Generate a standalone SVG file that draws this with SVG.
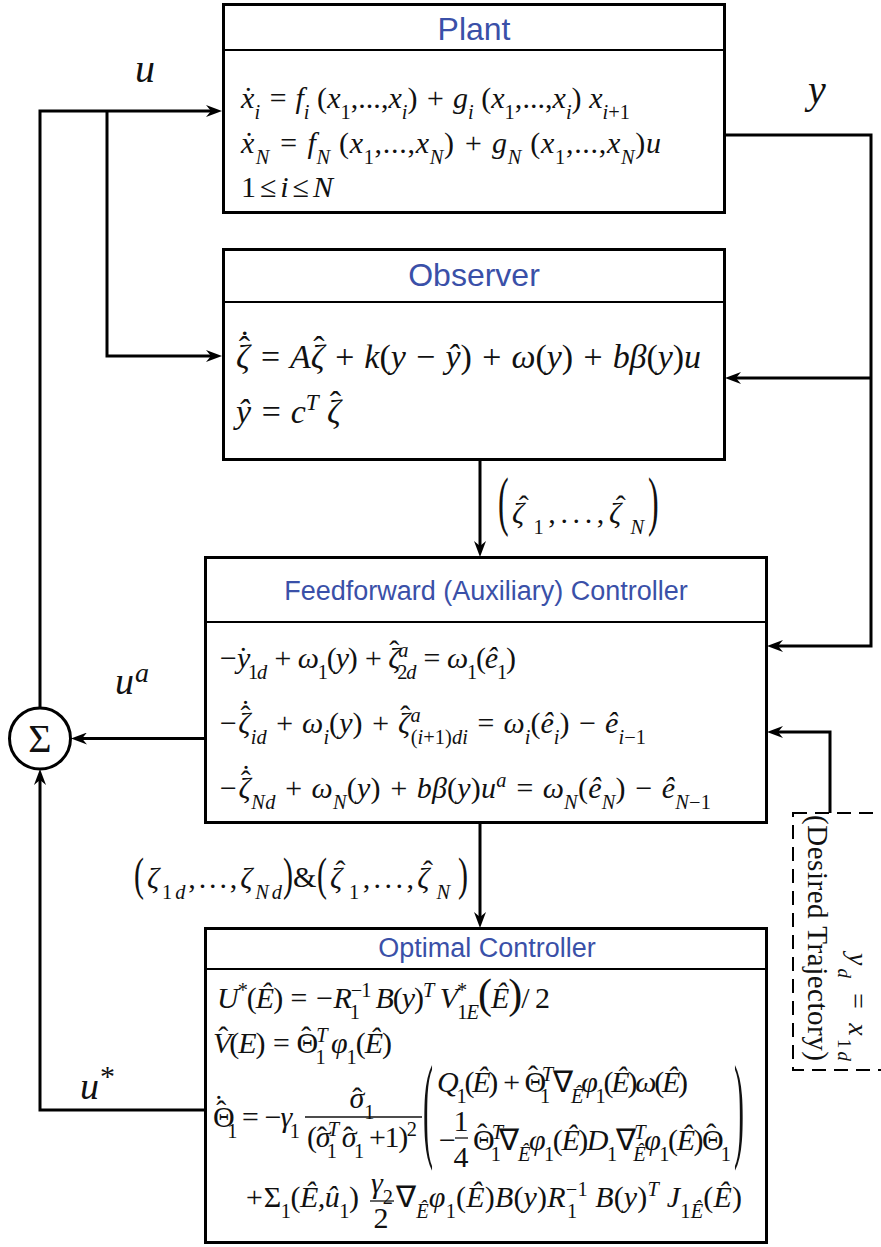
<svg xmlns="http://www.w3.org/2000/svg" width="881" height="1247" viewBox="0 0 881 1247">
<defs>
<style>
.box{fill:#fff;stroke:#000;stroke-width:3}
.hdr{stroke:#000;stroke-width:2}
.title{font-family:"Liberation Sans",Arial,sans-serif;fill:#3a50a8;text-anchor:middle}
.m{font-family:"Liberation Serif","Times New Roman",serif;font-style:italic;fill:#111}
.n{font-style:normal}
.sb{font-size:0.68em;baseline-shift:sub}
.sp{font-size:0.68em;baseline-shift:super}
.conn{fill:none;stroke:#000;stroke-width:3}
.bar{stroke:#111;stroke-width:1.3}
.dash{fill:none;stroke:#000;stroke-width:2;stroke-dasharray:14 8}
</style>
<marker id="ah" viewBox="0 0 16 12" refX="8" refY="6" markerWidth="16" markerHeight="12" markerUnits="userSpaceOnUse" orient="auto">
<path d="M0,0 L16,6 L0,12 L5,6 z" fill="#000"/>
</marker>
</defs>
<rect width="881" height="1247" fill="#fff"/>

<g id="plant">
<rect class="box" x="223.5" y="4.5" width="501" height="208"/>
<line class="hdr" x1="223.5" y1="50" x2="724.5" y2="50"/>
<text class="title" x="474" y="40" font-size="32">Plant</text>
<text class="m" x="241" y="108" font-size="30" textLength="389" lengthAdjust="spacing">x<tspan class="n" dx="-11">˙</tspan><tspan class="sb" dx="1">i</tspan> = f<tspan class="sb">i</tspan> <tspan class="n">(</tspan>x<tspan class="sb n">1</tspan><tspan class="n">,...,</tspan>x<tspan class="sb">i</tspan><tspan class="n">)</tspan> + g<tspan class="sb">i</tspan> <tspan class="n">(</tspan>x<tspan class="sb n">1</tspan><tspan class="n">,...,</tspan>x<tspan class="sb">i</tspan><tspan class="n">)</tspan> x<tspan class="sb">i<tspan class="n">+1</tspan></tspan></text>
<text class="m" x="241" y="153" font-size="30" textLength="420" lengthAdjust="spacing">x<tspan class="n" dx="-11">˙</tspan><tspan class="sb" dx="1">N</tspan> = f<tspan class="sb">N</tspan> <tspan class="n">(</tspan>x<tspan class="sb n">1</tspan><tspan class="n">,...,</tspan>x<tspan class="sb">N</tspan><tspan class="n">)</tspan> + g<tspan class="sb">N</tspan> <tspan class="n">(</tspan>x<tspan class="sb n">1</tspan><tspan class="n">,...,</tspan>x<tspan class="sb">N</tspan><tspan class="n">)</tspan>u</text>
<text class="m" x="241" y="197" font-size="30" textLength="92" lengthAdjust="spacing"><tspan class="n">1</tspan> ≤ i ≤ N</text>
</g>

<g id="observer">
<rect class="box" x="223.5" y="249.5" width="501" height="210"/>
<line class="hdr" x1="223.5" y1="302" x2="724.5" y2="302"/>
<text class="title" x="474" y="286" font-size="32">Observer</text>
<text class="m" x="236" y="368" font-size="34" textLength="465" lengthAdjust="spacing">ζ<tspan class="n" dx="-11" dy="-8">ˆ</tspan><tspan class="n" dx="-11" dy="-6">˙</tspan><tspan dy="14"> = A</tspan>ζ<tspan class="n" dx="-11" dy="-8">ˆ</tspan><tspan dy="8"> + k</tspan><tspan class="n">(</tspan>y − ŷ<tspan class="n">)</tspan> + ω<tspan class="n">(</tspan>y<tspan class="n">)</tspan> + bβ<tspan class="n">(</tspan>y<tspan class="n">)</tspan>u</text>
<text class="m" x="236" y="423" font-size="34" textLength="105" lengthAdjust="spacing">ŷ = c<tspan class="sp">T</tspan> ζ<tspan class="n" dx="-11" dy="-8">ˆ</tspan></text>
</g>

<g id="feedforward">
<rect class="box" x="205.5" y="557.5" width="561" height="265"/>
<line class="hdr" x1="205.5" y1="622" x2="766.5" y2="622"/>
<text class="title" x="486" y="600" font-size="27">Feedforward (Auxiliary) Controller</text>
<text class="m" x="218" y="668" font-size="30" textLength="298" lengthAdjust="spacing">−y<tspan class="n" dx="-11">˙</tspan><tspan class="sb" dx="1"><tspan class="n">1</tspan>d</tspan> + ω<tspan class="sb n">1</tspan><tspan class="n">(</tspan>y<tspan class="n">)</tspan> + ζ<tspan class="n" dx="-10" dy="-7">ˆ</tspan><tspan class="sp" dy="7">a</tspan><tspan class="sb" dx="-10"><tspan class="n">2</tspan>d</tspan> = ω<tspan class="sb n">1</tspan><tspan class="n">(</tspan>ê<tspan class="sb n">1</tspan><tspan class="n">)</tspan></text>
<text class="m" x="218" y="733" font-size="30" textLength="428" lengthAdjust="spacing">−ζ<tspan class="n" dx="-10" dy="-7">ˆ</tspan><tspan class="n" dx="-10" dy="-5">˙</tspan><tspan class="sb" dy="12">id</tspan> + ω<tspan class="sb">i</tspan><tspan class="n">(</tspan>y<tspan class="n">)</tspan> + ζ<tspan class="n" dx="-10" dy="-7">ˆ</tspan><tspan class="sp" dy="7">a</tspan><tspan class="sb" dx="-10"><tspan class="n">(</tspan>i<tspan class="n">+1)</tspan>di</tspan> = ω<tspan class="sb">i</tspan><tspan class="n">(</tspan>ê<tspan class="sb">i</tspan><tspan class="n">)</tspan> − ê<tspan class="sb">i<tspan class="n">−1</tspan></tspan></text>
<text class="m" x="218" y="798" font-size="30" textLength="493" lengthAdjust="spacing">−ζ<tspan class="n" dx="-10" dy="-7">ˆ</tspan><tspan class="n" dx="-10" dy="-5">˙</tspan><tspan class="sb" dy="12">Nd</tspan> + ω<tspan class="sb">N</tspan><tspan class="n">(</tspan>y<tspan class="n">)</tspan> + bβ<tspan class="n">(</tspan>y<tspan class="n">)</tspan>u<tspan class="sp">a</tspan> = ω<tspan class="sb">N</tspan><tspan class="n">(</tspan>ê<tspan class="sb">N</tspan><tspan class="n">)</tspan> − ê<tspan class="sb">N<tspan class="n">−1</tspan></tspan></text>
</g>

<g id="optimal">
<rect class="box" x="205.5" y="928.5" width="561" height="314"/>
<line class="hdr" x1="205.5" y1="969" x2="766.5" y2="969"/>
<text class="title" x="487" y="957" font-size="27">Optimal Controller</text>
<text class="m" x="217" y="1008" font-size="30" textLength="333" lengthAdjust="spacing">U<tspan class="sp n">*</tspan><tspan class="n">(</tspan>Ê<tspan class="n">)</tspan> = −R<tspan class="sp n">−1</tspan><tspan class="sb n" dx="-20">1</tspan><tspan dx="10"> </tspan>B<tspan class="n">(</tspan>y<tspan class="n">)</tspan><tspan class="sp">T</tspan> V<tspan class="sp n">*</tspan><tspan class="sb" dx="-9"><tspan class="n">1</tspan>E</tspan><tspan class="n" font-size="1.4em">(</tspan>Ê<tspan class="n" font-size="1.4em">)</tspan><tspan class="n">/ 2</tspan></text>
<text class="m" x="213" y="1053" font-size="30" textLength="179" lengthAdjust="spacing">V<tspan class="n" dx="-12" dy="-6">ˆ</tspan><tspan class="n" dx="2" dy="6">(</tspan>E<tspan class="n">)</tspan> = <tspan class="n">Θ</tspan><tspan class="n" dx="-16" dy="-6">ˆ</tspan><tspan class="sp" dx="6" dy="6">T</tspan><tspan class="sb n" dx="-11">1</tspan> φ<tspan class="sb n">1</tspan><tspan class="n">(</tspan>Ê<tspan class="n">)</tspan></text>
<text class="m" x="213" y="1127" font-size="30" textLength="87" lengthAdjust="spacing"><tspan class="n">Θ</tspan><tspan class="n" dx="-16" dy="-6">ˆ</tspan><tspan class="n" dx="-10" dy="-5">˙</tspan><tspan class="sb n" dx="6" dy="11">1</tspan> = −γ<tspan class="sb n">1</tspan></text>
<text class="m" x="362" y="1108" font-size="30" text-anchor="middle">σ<tspan class="n" dx="-12">ˆ</tspan><tspan class="sb n" dx="2">1</tspan></text>
<line class="bar" x1="305" y1="1117" x2="422" y2="1117"/>
<text class="m" x="307" y="1147" font-size="30" textLength="110" lengthAdjust="spacing"><tspan class="n">(</tspan>σ<tspan class="n" dx="-12">ˆ</tspan><tspan class="sp" dx="2">T</tspan><tspan class="sb n" dx="-11">1</tspan> σ<tspan class="n" dx="-12">ˆ</tspan><tspan class="sb n" dx="2">1</tspan> <tspan class="n">+1)</tspan><tspan class="sp n">2</tspan></text>
<text class="m n" transform="translate(423,1146) scale(1,3.9)" font-size="30">(</text>
<text class="m n" transform="translate(734,1146) scale(1,3.9)" font-size="30">)</text>
<text class="m" x="437" y="1092" font-size="30" textLength="251" lengthAdjust="spacing">Q<tspan class="sb n">1</tspan><tspan class="n">(</tspan>Ê<tspan class="n">)</tspan> + <tspan class="n">Θ</tspan><tspan class="n" dx="-16" dy="-6">ˆ</tspan><tspan class="sp" dx="6" dy="6">T</tspan><tspan class="sb n" dx="-11">1</tspan> <tspan class="n">∇</tspan><tspan class="sb">Ê</tspan>φ<tspan class="sb n">1</tspan><tspan class="n">(</tspan>Ê<tspan class="n">)</tspan>ω<tspan class="n">(</tspan>Ê<tspan class="n">)</tspan></text>
<text class="m" x="437" y="1150" font-size="30">−</text>
<text class="m n" x="461" y="1131" font-size="30" text-anchor="middle">1</text>
<line class="bar" x1="455" y1="1138" x2="468" y2="1138"/>
<text class="m n" x="461" y="1167" font-size="30" text-anchor="middle">4</text>
<text class="m" x="473" y="1150" font-size="30" textLength="258" lengthAdjust="spacing"><tspan class="n">Θ</tspan><tspan class="n" dx="-16" dy="-6">ˆ</tspan><tspan class="sp" dx="6" dy="6">T</tspan><tspan class="sb n" dx="-11">1</tspan><tspan class="n">∇</tspan><tspan class="sb">Ê</tspan>φ<tspan class="sb n">1</tspan><tspan class="n">(</tspan>Ê<tspan class="n">)</tspan>D<tspan class="sb n">1</tspan><tspan class="n">∇</tspan><tspan class="sp">T</tspan><tspan class="sb" dx="-11">Ê</tspan>φ<tspan class="sb n">1</tspan><tspan class="n">(</tspan>Ê<tspan class="n">)</tspan><tspan class="n">Θ</tspan><tspan class="n" dx="-16" dy="-6">ˆ</tspan><tspan class="sb n" dx="6" dy="6">1</tspan></text>
<text class="m" x="244" y="1207" font-size="30" textLength="115" lengthAdjust="spacing">+<tspan class="n">Σ</tspan><tspan class="sb n">1</tspan><tspan class="n">(</tspan>Ê,û<tspan class="sb n">1</tspan><tspan class="n">)</tspan></text>
<text class="m" x="382" y="1193" font-size="30" text-anchor="middle">γ<tspan class="sb n">2</tspan></text>
<line class="bar" x1="370" y1="1201" x2="394" y2="1201"/>
<text class="m n" x="381" y="1228" font-size="30" text-anchor="middle">2</text>
<text class="m" x="396" y="1207" font-size="30" textLength="346" lengthAdjust="spacing"><tspan class="n">∇</tspan><tspan class="sb">Ê</tspan>φ<tspan class="sb n">1</tspan><tspan class="n">(</tspan>Ê<tspan class="n">)</tspan>B<tspan class="n">(</tspan>y<tspan class="n">)</tspan>R<tspan class="sp n">−1</tspan><tspan class="sb n" dx="-20">1</tspan><tspan dx="10"> </tspan>B<tspan class="n">(</tspan>y<tspan class="n">)</tspan><tspan class="sp">T</tspan> J<tspan class="sb"><tspan class="n">1</tspan>Ê</tspan><tspan class="n">(</tspan>Ê<tspan class="n">)</tspan></text>
</g>

<g id="sum">
<circle cx="40" cy="738.5" r="30.5" fill="#fff" stroke="#000" stroke-width="3"/>
<text class="m n" x="40" y="752" font-size="40" text-anchor="middle">Σ</text>
</g>

<g id="desired">
<rect class="dash" x="793" y="813" width="130" height="257"/>
<text class="m n" transform="translate(808,815) rotate(90)" font-size="29" textLength="246" lengthAdjust="spacing">(Desired Trajectory)</text>
<text class="m" transform="translate(849,953) rotate(90)" font-size="28" textLength="108" lengthAdjust="spacing">y<tspan class="sb">d</tspan> = x<tspan class="sb"><tspan class="n">1</tspan>d</tspan></text>
</g>

<g id="connectors">
<path class="conn" d="M40,708 V111 H214" marker-end="url(#ah)"/>
<path class="conn" d="M107,111 V356 H214" marker-end="url(#ah)"/>
<path class="conn" d="M725,135 H871 V646 H775" marker-end="url(#ah)"/>
<path class="conn" d="M871,378 H733" marker-end="url(#ah)"/>
<path class="conn" d="M830,813 V732 H775" marker-end="url(#ah)"/>
<path class="conn" d="M480,460 V549" marker-end="url(#ah)"/>
<path class="conn" d="M480,823 V920" marker-end="url(#ah)"/>
<path class="conn" d="M205,738.5 H79" marker-end="url(#ah)"/>
<path class="conn" d="M205,1110 H40 V777" marker-end="url(#ah)"/>
</g>

<g id="labels">
<text class="m" x="135" y="82" font-size="40">u</text>
<text class="m" x="808" y="103" font-size="40">y</text>
<text class="m" x="115" y="694" font-size="38">u</text>
<text class="m" x="135" y="682" font-size="28">a</text>
<text class="m" x="80" y="1099" font-size="38">u</text>
<text class="m n" x="100" y="1086" font-size="30">*</text>
<text class="m n" transform="translate(498,523) scale(1,2.05)" font-size="32">(</text>
<text class="m" x="512" y="523" font-size="30" textLength="132" lengthAdjust="spacing">ζ<tspan class="n" dx="-10" dy="-7">ˆ</tspan><tspan class="sb n" dy="7">1</tspan><tspan class="n">,...,</tspan>ζ<tspan class="n" dx="-10" dy="-7">ˆ</tspan><tspan class="sb" dy="7">N</tspan></text>
<text class="m n" transform="translate(648,523) scale(1,2.05)" font-size="32">)</text>
<text class="m n" transform="translate(134,890) scale(1,1.55)" font-size="30">(</text>
<text class="m" x="147" y="888" font-size="30" textLength="135" lengthAdjust="spacing">ζ<tspan class="sb"><tspan class="n">1</tspan>d</tspan><tspan class="n">,...,</tspan>ζ<tspan class="sb">Nd</tspan></text>
<text class="m n" transform="translate(283,890) scale(1,1.55)" font-size="30">)</text>
<text class="m n" x="293" y="887" font-size="30">&amp;</text>
<text class="m n" transform="translate(317,890) scale(1,1.55)" font-size="30">(</text>
<text class="m" x="330" y="888" font-size="30" textLength="120" lengthAdjust="spacing">ζ<tspan class="n" dx="-10" dy="-7">ˆ</tspan><tspan class="sb n" dy="7">1</tspan><tspan class="n">,...,</tspan>ζ<tspan class="n" dx="-10" dy="-7">ˆ</tspan><tspan class="sb" dy="7">N</tspan></text>
<text class="m n" transform="translate(458,890) scale(1,1.55)" font-size="30">)</text>
</g>
</svg>
